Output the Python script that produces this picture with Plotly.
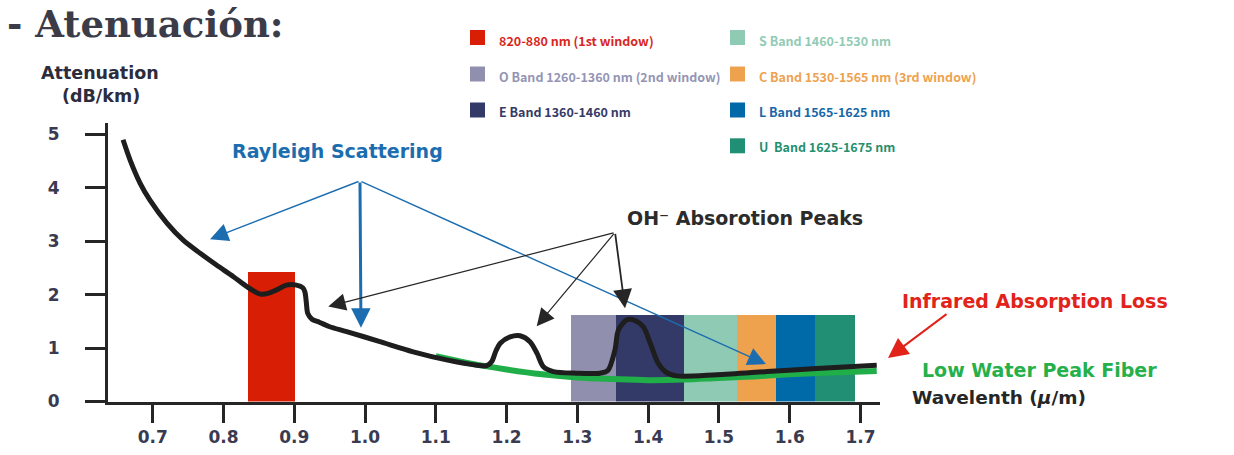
import plotly.graph_objects as go

W, H = 1234, 455

# ---------------- data ----------------
curve_x = [0.658, 0.668, 0.682, 0.696, 0.720, 0.743, 0.767, 0.790, 0.814, 0.833, 0.852,
           0.864, 0.875, 0.889, 0.903, 0.912, 0.915, 0.917, 0.919, 0.925, 0.936, 0.950,
           0.974, 1.021, 1.068, 1.115, 1.158, 1.172, 1.179, 1.185, 1.191, 1.205, 1.219,
           1.233, 1.243, 1.252, 1.266, 1.299, 1.332, 1.343, 1.353, 1.358, 1.370, 1.379,
           1.393, 1.403, 1.414, 1.425, 1.440, 1.497, 1.568, 1.638, 1.723]
curve_y = [4.90, 4.52, 4.09, 3.77, 3.34, 3.02, 2.775, 2.556, 2.337, 2.15, 2.01,
           2.03, 2.09, 2.18, 2.18, 2.13, 2.05, 1.85, 1.65, 1.54, 1.48, 1.40,
           1.31, 1.12, 0.93, 0.78, 0.68, 0.67, 0.75, 0.95, 1.09, 1.21, 1.23,
           1.12, 0.90, 0.65, 0.56, 0.53, 0.53, 0.58, 0.96, 1.34, 1.53, 1.53,
           1.40, 1.09, 0.72, 0.55, 0.48, 0.50, 0.56, 0.62, 0.68]

lwp_x = [1.10, 1.15, 1.20, 1.25, 1.30, 1.35, 1.40, 1.45, 1.50, 1.55, 1.60, 1.65, 1.723]
lwp_y = [0.85, 0.71, 0.60, 0.51, 0.45, 0.42, 0.40, 0.41, 0.44, 0.47, 0.51, 0.54, 0.57]

band_labels = ["820-880 nm (1st window)", "O Band 1260-1360 nm (2nd window)",
               "E Band 1360-1460 nm", "S Band 1460-1530 nm",
               "C Band 1530-1565 nm (3rd window)", "L Band 1565-1625 nm",
               "U  Band 1625-1675 nm"]
band_start = [0.835, 1.291, 1.355, 1.451, 1.525, 1.580, 1.636]
band_end = [0.901, 1.355, 1.451, 1.525, 1.580, 1.636, 1.692]
band_height = [2.43, 1.62, 1.62, 1.62, 1.62, 1.62, 1.62]
band_colors = ["#d81e05", "#9090ae", "#343a68", "#8fcab5", "#efa24e", "#0069a8", "#218f73"]
label_colors = ["#d9261c", "#9495b5", "#353b66", "#92cbb5", "#eea24f", "#1768a7", "#23906f"]

x_ticks = [0.7, 0.8, 0.9, 1.0, 1.1, 1.2, 1.3, 1.4, 1.5, 1.6, 1.7]
y_ticks = [0, 1, 2, 3, 4, 5]

# ---------------- geometry helpers ----------------
X0_PX, X1_PX = 108, 880
Y0_PX, Y1_PX = 401.5, 123
x_range = [0.63674, 1.7276]
y_range = [0, 5.215]


def px(xp):
    return xp / W


def py(yp):
    return 1 - yp / H


AX = "#262626"
FONT = "DejaVu Sans"

fig = go.Figure()

# bands
fig.add_trace(go.Bar(
    x=[(s + e) / 2 for s, e in zip(band_start, band_end)],
    y=band_height,
    width=[e - s for s, e in zip(band_start, band_end)],
    marker=dict(color=band_colors, line=dict(width=0)),
    showlegend=False, hoverinfo="skip"))

# low water peak fiber
fig.add_trace(go.Scatter(x=lwp_x, y=lwp_y, mode="lines",
                         line=dict(color="#1fae48", width=6, shape="spline", smoothing=1.0),
                         showlegend=False, hoverinfo="skip"))
# attenuation curve
fig.add_trace(go.Scatter(x=curve_x, y=curve_y, mode="lines",
                         line=dict(color="#1e1e1e", width=5, shape="spline", smoothing=0.85),
                         showlegend=False, hoverinfo="skip"))

# axis arrowheads
fig.add_trace(go.Scatter(x=[x_range[0]], y=[5.29], mode="markers",
                         marker=dict(symbol="triangle-up", size=18, color=AX),
                         cliponaxis=False, showlegend=False, hoverinfo="skip"))
fig.add_trace(go.Scatter(x=[1.734], y=[0], mode="markers",
                         marker=dict(symbol="triangle-right", size=18, color=AX),
                         cliponaxis=False, showlegend=False, hoverinfo="skip"))

ann = []

# arrows (data coords)
blue = "#1c6db0"
tail_b = (0.9928, 4.13)
for tip, w, s in [((0.7809, 3.04), 1.4, 2.6), ((0.9942, 1.38), 3, 1.3), ((1.5665, 0.70), 1.4, 2.6)]:
    ann.append(dict(x=tip[0], y=tip[1], ax=tail_b[0], ay=tail_b[1], xref="x", yref="y",
                    axref="x", ayref="y", showarrow=True, arrowhead=2, arrowsize=s,
                    arrowwidth=w, arrowcolor=blue, text=""))
tail_k = (1.3532, 3.165)
for tip, w, s in [((0.948, 1.78), 1.2, 2.9), ((1.2425, 1.41), 1.2, 2.9), ((1.3673, 1.745), 1.8, 2.1)]:
    ann.append(dict(x=tip[0], y=tip[1], ax=tail_k[0], ay=tail_k[1], xref="x", yref="y",
                    axref="x", ayref="y", showarrow=True, arrowhead=2, arrowsize=s,
                    arrowwidth=w, arrowcolor="#262626", text=""))
# red arrow (outside plot area -> paper coords with pixel offset)
ann.append(dict(x=px(888), y=py(358), xref="paper", yref="paper", ax=60, ay=-45,
                showarrow=True, arrowhead=2, arrowsize=2.0, arrowwidth=2,
                arrowcolor="#e2231a", text=""))


def label(text, xp, yp, color, size, xanchor="center", family=FONT, weight="bold"):
    ann.append(dict(text=text, x=px(xp), y=py(yp), xref="paper", yref="paper",
                    xanchor=xanchor, yanchor="middle", showarrow=False,
                    font=dict(family=family, size=size, color=color, weight=weight)))


label("Rayleigh Scattering", 337, 151, blue, 19)
label("OH⁻ Absorotion Peaks", 745, 218, "#2b2b2b", 19)
label("Infrared Absorption Loss", 1035, 301, "#e2231a", 19)
label("Low Water Peak Fiber", 1039, 370, "#25b04a", 19)
label("Wavelenth (<i>µ</i>/m)", 999, 397, "#262626", 18.5)
label("Attenuation", 100, 73, "#2c2c3c", 17.5)
label("(dB/km)", 101, 96, "#2c2c3c", 17.5)

# legend
shapes = []
rows = [(0, 470, 37.5, 497, 40), (1, 470, 74, 497, 76.5), (2, 470, 110, 497, 111.5),
        (3, 730, 37.5, 757, 40), (4, 730, 74, 757, 76.5), (5, 730, 110, 757, 111.5),
        (6, 730, 145.8, 757, 147)]
for i, sx, sy, tx, ty in rows:
    shapes.append(dict(type="rect", xref="paper", yref="paper",
                       x0=px(sx), x1=px(sx + 15), y0=py(sy + 7.5), y1=py(sy - 7.5),
                       fillcolor=band_colors[i], line=dict(width=0)))
    label(band_labels[i], tx, ty, label_colors[i], 12.5, xanchor="left",
          family="Noto Sans CJK SC, Liberation Sans, Arial", weight="bold")

fig.update_layout(
    width=W, height=H,
    margin=dict(l=0, r=0, t=0, b=0, autoexpand=False),
    paper_bgcolor="white", plot_bgcolor="rgba(0,0,0,0)",
    barmode="overlay", bargap=0,
    title=dict(text="- Atenuación:", x=px(7), xanchor="left", xref="paper",
               y=1 - 24 / H, yref="container", yanchor="middle",
               font=dict(family="DejaVu Serif", size=37, color="#3c3c48", weight="bold")),
    xaxis=dict(domain=[px(X0_PX), px(X1_PX)], range=x_range, showgrid=False, zeroline=False,
               automargin=False,
               showline=True, linewidth=3, linecolor=AX, ticks="outside", ticklen=18,
               tickwidth=3, tickcolor=AX, tickvals=x_ticks, tickformat=".1f",
               tickfont=dict(family=FONT, size=17, color="#3a3a50", weight="bold"),
               fixedrange=True),
    yaxis=dict(domain=[1 - Y0_PX / H, 1 - Y1_PX / H], range=y_range, showgrid=False,
               automargin=False,
               zeroline=False, showline=True, linewidth=3, linecolor=AX, ticks="outside",
               ticklen=20, tickwidth=3, tickcolor=AX, tickvals=y_ticks,
               ticklabelstandoff=22,
               tickfont=dict(family=FONT, size=17, color="#3a3a50", weight="bold"),
               fixedrange=True),
    annotations=ann,
    shapes=shapes,
)

fig.write_html("out.html", config={"displayModeBar": False},
               post_script="document.body.style.margin='0';document.body.style.padding='0';")
